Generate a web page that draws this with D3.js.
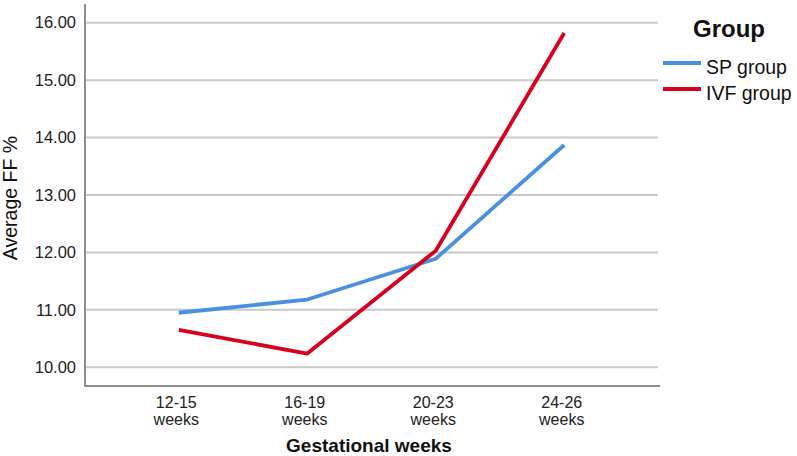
<!DOCTYPE html>
<html><head><meta charset="utf-8">
<script src="https://cdn.jsdelivr.net/npm/d3@7"></script>
<style>body{margin:0;background:#fff}svg{display:block;font-family:"Liberation Sans",Arial,sans-serif}</style>
</head><body>
<svg id="chart" width="797" height="456"></svg>
<script>
const categories = ["12-15 weeks","16-19 weeks","20-23 weeks","24-26 weeks"];
const spGroup  = [10.95, 11.18, 11.89, 13.87];
const ivfGroup = [10.65, 10.24, 12.03, 15.82];
const yTicks = [10,11,12,13,14,15,16];
const seriesNames = ["SP group","IVF group"];
const colors = ["#4a90e2","#d7001f"];

const svg = d3.select("#chart");
const plot = {left:85, right:658, top:4, bottom:386};

const x = d3.scalePoint().domain(categories).range([plot.left, plot.right]).padding(0.73);
const y = d3.scaleLinear().domain([10,16]).range([367.3,22.7]);

// gridlines
svg.append("g").selectAll("line").data(yTicks).join("line")
  .attr("x1",plot.left).attr("x2",plot.right)
  .attr("y1",d=>y(d)).attr("y2",d=>y(d))
  .attr("stroke","#c9c9c9").attr("stroke-width",2);

// y axis
const yAxis = svg.append("g").attr("transform",`translate(${plot.left},0)`)
  .call(d3.axisLeft(y).tickValues(yTicks).tickFormat(d3.format(".2f")).tickSize(0).tickPadding(9));
yAxis.select(".domain").remove();
yAxis.selectAll("text").attr("font-size",16.5).attr("fill","#222").style("font-family","Liberation Sans, Arial");

// x axis (labels drawn per tick, two lines)
const xAxis = svg.append("g").attr("transform",`translate(0,${plot.bottom})`)
  .call(d3.axisBottom(x).tickSize(0).tickFormat(""));
xAxis.select(".domain").remove();
xAxis.selectAll(".tick").each(function(d){
  const g = d3.select(this);
  d.split(" ").forEach((p,i)=>{
    g.append("text").attr("x",-3).attr("y",22+i*17).attr("text-anchor","middle")
      .attr("font-size",16).attr("fill","#222").style("font-family","Liberation Sans, Arial").text(p);
  });
});

// axis lines
svg.append("path")
  .attr("d",`M${plot.left},${plot.top}V${plot.bottom}H${plot.right+2}`)
  .attr("fill","none").attr("stroke","#8e8e8e").attr("stroke-width",2);

// lines
const line = d3.line().x((d,i)=>x(categories[i])).y(d=>y(d));
[spGroup, ivfGroup].forEach((s,k)=>{
  svg.append("path").datum(s).attr("d",line)
    .attr("fill","none").attr("stroke",colors[k]).attr("stroke-width",3.8)
    .attr("stroke-linejoin","round");
});

// axis titles
svg.append("text").attr("transform","translate(17,198) rotate(-90)")
  .attr("text-anchor","middle").attr("font-size",19.5).attr("fill","#111").text("Average FF %");
svg.append("text").attr("x",369).attr("y",452).attr("text-anchor","middle")
  .attr("font-size",19).attr("font-weight","bold").attr("fill","#111").text("Gestational weeks");

// legend
const lg = svg.append("g");
lg.append("text").attr("x",693).attr("y",37).attr("font-size",24).attr("font-weight","bold").attr("fill","#111").text("Group");
seriesNames.forEach((n,i)=>{
  const yy = 63 + i*26;
  lg.append("line").attr("x1",663).attr("x2",701).attr("y1",yy).attr("y2",yy)
    .attr("stroke",colors[i]).attr("stroke-width",4);
  lg.append("text").attr("x",706).attr("y",yy+11).attr("font-size",19.5).attr("fill","#111").text(n);
});
</script>
</body></html>
